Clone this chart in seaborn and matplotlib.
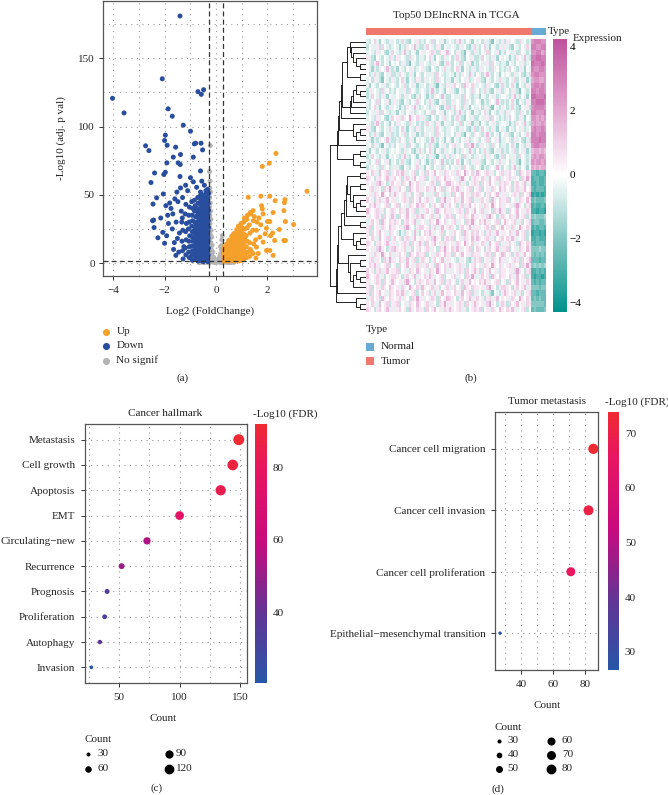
import numpy as np
import pandas as pd
import matplotlib
matplotlib.use("Agg")
import matplotlib.pyplot as plt
import seaborn as sns
from matplotlib.colors import LinearSegmentedColormap, ListedColormap, Normalize
from matplotlib.cm import ScalarMappable

# ---------------------------------------------------------------- data (a)
down_pts = [
    (-1.40, 181), (-2.09, 135), (-0.70, 125.6), (-0.57, 123.6), (-0.48, 127), (-4.03, 120.7),
    (-3.58, 110), (-1.86, 113), (-1.70, 107.6), (-1.27, 101), (-0.99, 96.6), (-1.97, 93.7),
    (-2.00, 89.8), (-1.90, 86.3), (-2.74, 85.9), (-2.61, 82.4), (-1.57, 84.9), (-0.84, 87.3),
    (-0.79, 87.8), (-0.58, 87.8), (-0.52, 82.9), (-1.38, 79.5), (-1.66, 77.6), (-1.47, 73.4),
    (-1.39, 72.2), (-1.91, 73.4), (-0.88, 77.6), (-2.39, 66), (-2.03, 64.9), (-1.97, 66.5),
    (-2.53, 59), (-1.40, 63.4), (-0.99, 62.5), (-0.88, 59.5), (-0.75, 55.5), (-0.60, 67.5),
    (-0.45, 57), (-0.55, 60), (-2.05, 50.6), (-2.31, 47.8), (-2.45, 43.2), (-2.43, 31.5),
    (-2.47, 31), (-2.41, 26), (-2.26, 18.5), (-2.07, 22.5), (-2.00, 14.5), (-1.56, 5.6),
    (-1.80, 44), (-1.75, 40), (-1.68, 36), (-1.85, 29), (-1.92, 20), (-1.70, 25), (-1.62, 15),
    (-1.55, 30), (-1.48, 45), (-1.52, 52), (-1.30, 48), (-1.35, 38), (-1.42, 22), (-1.25, 12),
    (-1.45, 8), (-1.60, 47), (-1.38, 55), (-1.18, 57), (-1.10, 53), (-1.65, 10), (-1.50, 18),
    (-1.88, 35), (-2.15, 33), (-1.95, 42), (-1.33, 30), (-1.28, 3),
    (-0.31, 1), (-0.33, 3.5), (-0.30, 6), (-0.32, 8.5), (-0.29, 11), (-0.33, 13.5), (-0.31, 16),
    (-0.30, 18.5), (-0.34, 21), (-0.31, 23.5), (-0.29, 26), (-0.32, 28.5), (-0.30, 31), (-0.33, 33.5),
    (-0.31, 36), (-0.29, 38.5), (-0.32, 41), (-0.30, 43.5), (-0.33, 46), (-0.31, 48.5), (-0.29, 51),
    (-0.32, 54),
    (-0.40, 2), (-0.42, 4.5), (-0.39, 7), (-0.41, 9.5), (-0.38, 12), (-0.42, 14.5), (-0.40, 17),
    (-0.43, 19.5), (-0.39, 22), (-0.41, 24.5), (-0.38, 27), (-0.42, 29.5), (-0.40, 32), (-0.43, 34.5),
    (-0.39, 37), (-0.41, 39.5), (-0.38, 42), (-0.42, 44.5), (-0.40, 47), (-0.41, 50), (-0.39, 53),
    (-0.50, 1), (-0.52, 3.5), (-0.49, 6), (-0.51, 8.5), (-0.48, 11), (-0.53, 13.5), (-0.50, 16),
    (-0.52, 18.5), (-0.49, 21), (-0.51, 23.5), (-0.48, 26), (-0.52, 28.5), (-0.50, 31), (-0.53, 33.5),
    (-0.49, 36), (-0.51, 38.5), (-0.48, 41), (-0.52, 44), (-0.50, 47), (-0.51, 50),
    (-0.60, 2), (-0.62, 4.5), (-0.59, 7), (-0.61, 9.5), (-0.58, 12), (-0.63, 14.5), (-0.60, 17),
    (-0.62, 19.5), (-0.59, 22), (-0.61, 25), (-0.58, 28), (-0.62, 31), (-0.60, 34), (-0.63, 37),
    (-0.59, 40), (-0.61, 43), (-0.58, 46), (-0.62, 49), (-0.60, 52),
    (-0.70, 1.5), (-0.72, 4), (-0.69, 7), (-0.71, 10), (-0.68, 13), (-0.73, 16), (-0.70, 19),
    (-0.72, 22), (-0.69, 25), (-0.71, 28), (-0.68, 31), (-0.72, 34), (-0.70, 37), (-0.73, 40),
    (-0.69, 44), (-0.71, 48),
    (-0.81, 3), (-0.83, 6), (-0.80, 9), (-0.82, 12), (-0.79, 15), (-0.84, 18), (-0.81, 21),
    (-0.83, 24), (-0.80, 27), (-0.82, 30), (-0.79, 34), (-0.83, 38), (-0.81, 42), (-0.84, 46),
    (-0.92, 2), (-0.94, 5.5), (-0.91, 9), (-0.93, 12.5), (-0.90, 16), (-0.95, 19.5), (-0.92, 23),
    (-0.94, 27), (-0.91, 31), (-0.93, 35), (-0.90, 40), (-0.94, 45),
    (-1.04, 4), (-1.06, 8), (-1.03, 12), (-1.05, 16), (-1.02, 20), (-1.07, 25), (-1.04, 30),
    (-1.06, 35), (-1.03, 41),
    (-1.17, 6), (-1.19, 11), (-1.16, 17), (-1.18, 23), (-1.15, 29), (-1.20, 36), (-1.17, 43),
    (-1.30, 9), (-1.32, 16), (-1.29, 24), (-1.31, 33),
]
up_pts = [
    (0.30, 1.5), (0.32, 4), (0.29, 6.5), (0.31, 9), (0.30, 11.5),
    (0.40, 1.5), (0.42, 4), (0.39, 6.5), (0.41, 9), (0.38, 11.5), (0.42, 14),
    (0.50, 1.5), (0.52, 4), (0.49, 6.5), (0.51, 9), (0.48, 11.5), (0.52, 14), (0.50, 16.5),
    (0.60, 2), (0.62, 4.5), (0.59, 7), (0.61, 9.5), (0.58, 12), (0.62, 14.5), (0.60, 17), (0.61, 19.5),
    (0.70, 1.5), (0.72, 4), (0.69, 6.5), (0.71, 9), (0.68, 11.5), (0.72, 14), (0.70, 16.5), (0.73, 19),
    (0.69, 21.5),
    (0.80, 2), (0.82, 4.5), (0.79, 7), (0.81, 9.5), (0.78, 12), (0.82, 14.5), (0.80, 17), (0.83, 19.5),
    (0.79, 22), (0.81, 24.5),
    (0.90, 1.5), (0.92, 4), (0.89, 6.5), (0.91, 9), (0.88, 11.5), (0.92, 14), (0.90, 16.5), (0.93, 19),
    (0.89, 21.5), (0.91, 24), (0.88, 27),
    (1.00, 2), (1.02, 4.5), (0.99, 7), (1.01, 9.5), (0.98, 12), (1.02, 14.5), (1.00, 17), (1.03, 20),
    (0.99, 23), (1.01, 26), (0.98, 29),
    (1.10, 3), (1.12, 6), (1.09, 9), (1.11, 12), (1.08, 15), (1.12, 18), (1.10, 21), (1.13, 25),
    (1.09, 30), (1.11, 33),
    (1.20, 4), (1.22, 8), (1.19, 12), (1.21, 16), (1.18, 20), (1.22, 26), (1.20, 32), (1.23, 35),
    (1.32, 5), (1.34, 10), (1.31, 15), (1.33, 22), (1.30, 28), (1.34, 37),
    (1.45, 7), (1.47, 14), (1.44, 24), (1.46, 31),
    (2.34, 80.3), (2.08, 73.2), (1.81, 70.8), (3.55, 52.6), (1.26, 48.2), (1.75, 49), (2.10, 49),
    (2.31, 45.7), (2.69, 46.5), (2.67, 44.3), (1.78, 42), (1.81, 39.7), (1.45, 38.4), (2.23, 37),
    (2.65, 38.4), (1.36, 36), (1.19, 32.4), (1.84, 36), (2.01, 30.4), (2.10, 30.4), (2.71, 30.4),
    (3.03, 28.2), (2.47, 24.6), (2.21, 22), (2.65, 16.5), (2.71, 16.5), (2.29, 16.5), (1.97, 9.2),
    (2.10, 9.2), (2.23, 5.6), (1.56, 3.6), (1.92, 21.4), (2.13, 20), (1.58, 24), (1.71, 19),
    (1.84, 15.3), (1.58, 11.7), (1.39, 8), (1.97, 25.5), (1.60, 30), (1.55, 17), (1.65, 7),
    (1.75, 28), (1.50, 34), (1.68, 33),
]
ns_pts = [
    (-0.22, 86), (-0.25, 67), (-0.23, 60), (-0.24, 55), (-0.21, 52), (-0.24, 48), (-0.22, 44),
    (-0.25, 41), (-0.21, 38), (-0.24, 35), (-0.20, 32), (-0.23, 29), (-0.25, 26), (-0.19, 24),
    (-0.22, 21), (-0.17, 19), (-0.24, 18), (-0.20, 15), (-0.15, 13), (-0.23, 12), (-0.18, 10),
    (-0.12, 8), (-0.21, 7), (-0.15, 5.5), (-0.08, 4), (-0.19, 3), (-0.11, 2), (-0.03, 1),
    (0.05, 1.5), (0.10, 3), (0.15, 5), (0.19, 7), (0.22, 10), (0.24, 13), (0.20, 4), (0.25, 2),
    (0.12, 0.8), (-0.05, 0.5), (0.30, 0.5), (0.40, 0.6), (0.50, 0.3), (-0.35, 0.5), (-0.45, 0.3),
    (-0.55, 0.6), (-0.25, 0.4), (0.00, 0.2), (0.60, 0.4), (0.20, 0.3), (-0.14, 0.8), (0.23, 17),
    (0.25, 20), (-0.65, 0.2), (0.70, 0.5), (-0.25, 9), (-0.25, 4), (0.18, 12), (0.24, 7),
]
volcano_groups = ["Up", "Down", "No signif"]
volcano_colors = ["#F5A02B", "#2A4E9E", "#B4B4B4"]
lfc_cut, padj_line = 0.263, 1.3

# ---------------------------------------------------------------- data (b)
heat_title = "Top50 DElncRNA in TCGA"
# expression levels coded as letters: a=-4 ... i=0 ... q=+4 (step 0.5)
LEVELS = "abcdefghijklmnopq"
HEAT_WORDS = {
    "T1": "hgikhfihgjh", "T2": "ihgjlhgihfi", "T3": "gihhjgkihgh", "T4": "hfihgihjghi",
    "T5": "ighkhgfihjg", "T6": "hihgjhigfhk", "T7": "gjhihgkhigh", "T8": "ihfhgjihlhg",
    "T9": "hgihkgihjfh", "T10": "jhgfihgihkh", "T11": "higjhgeihgj", "T12": "ghkihgjhfih",
    "P1": "jikjhlijkgj", "P2": "ijhkjimjikh", "P3": "kjigjkijlhj", "P4": "jhijkjgkijl",
    "P5": "ikjljhijkgi", "P6": "jijhkmjigjk", "P7": "hjkijgljikj", "P8": "kijgjkhjlij",
    "P9": "jgkijlijhkj", "P10": "ijkhjigkjmj", "P11": "ljijkhjgijk", "P12": "jkgijhkjilj",
}
# each row: tumour samples (coded words) | normal samples
HEAT_ROWS = [
    "T1 T5 T9 T2 T11 T7|nooonn", "T3 T8 T12 T6 T1 T10|oonnoo", "T6 T2 P4 T11 T9 T3|nnoomn",
    "T10 T7 T1 T5 T12 T8|ooppoo", "T2 T11 T6 T9 T3 T4|pooopo", "T8 T4 T10 T1 T7 T12|onnoon",
    "T5 T12 T3 T8 T2 T6|noonnn", "T11 T1 T7 T4 T10 T9|mnnmmn", "T4 T9 T11 P7 T6 T1|noonon",
    "T7 T3 T2 T10 T5 T11|oonoon", "T12 T6 T8 T3 T4 T2|ppooop", "T9 T10 T5 T7 T8 T1|oopppo",
    "T1 T8 T6 T12 T11 T5|noooon", "T3 T4 T9 T2 T1 T7|oonnno", "T6 P2 T10 T5 T3 T12|nnmnmn",
    "T2 T7 T12 T9 T4 T8|mnmmnm", "T10 T1 T3 T6 T12 T4|nonnon", "T5 T9 T7 T11 T2 T10|oonooo",
    "T8 T12 T2 T4 T9 T6|ooopoo", "T11 T3 T5 P10 T7 T1|noonnn", "T4 T6 T1 T8 T5 T9|lmmlml",
    "T12 T2 T11 T7 T6 T3|mnmnnm", "T9 T5 T8 T1 T10 T11|nmnnmn", "T7 T10 T4 T3 T8 T2|mlmlmm",
    "P1 P5 P9 P2 P11 P7|ddcddc", "P3 P8 P12 P6 P1 P10|cddccd", "P6 P2 P4 P11 P9 P3|ccdccd",
    "P10 P7 P1 P5 P12 P8|dcdddc", "P2 P11 T3 P9 P3 P4|bcbcbc", "P8 P4 P10 P1 P7 P12|deddde",
    "P5 P12 P3 P8 P2 P6|cdccdc", "P11 P1 P7 P4 P10 P9|ccbccb", "P4 P9 P11 P12 P6 P1|efeeef",
    "P7 P3 P2 P10 P5 P11|deedde", "P12 P6 P8 P3 P4 P2|cdcddc", "P9 T8 P5 P7 P8 P1|bccbcb",
    "P1 P8 P6 P12 P11 P5|ccdccc", "P3 P4 P9 P2 P1 P7|dcdddc", "P6 P11 P10 P5 P3 P12|eeefee",
    "P2 P7 P12 P9 P4 P8|ededed", "P10 P1 P3 T6 P12 P4|dddcdd", "P5 P9 P7 P11 P2 P10|efefef",
    "P8 P12 P2 P4 P9 P6|ccdcdc", "P11 P3 P5 P10 P7 P1|cbccbc", "P4 P6 P1 P8 P5 P9|dcdcdd",
    "P12 P2 P11 P7 P6 P3|eeedee", "P9 P5 P8 P1 T11 P11|ddcddd", "P7 P10 P4 P3 P8 P2|dededd",
    "P1 P12 P10 P4 P6 P9|eeeeed", "P3 P7 P9 P11 P12 P5|deddde",
]
expr_ticks = [-4, -2, 0, 2, 4]
type_names = ["Normal", "Tumor"]
type_colors = ["#67AAD4", "#F0776C"]

# ---------------------------------------------------------------- data (c)
hall_terms = ["Metastasis", "Cell growth", "Apoptosis", "EMT", "Circulating\u2212new",
              "Recurrence", "Prognosis", "Proliferation", "Autophagy", "Invasion"]
hall_count = [149, 144, 134, 100, 73, 52, 40, 38, 34, 27]
hall_fdr = [91.9, 88.5, 84.0, 76.0, 55.0, 51.0, 34.5, 33.5, 38.5, 20.4]
hall_xticks = [50, 100, 150]
hall_fdr_ticks = [40, 60, 80]
hall_size_legend = [30, 60, 90, 120]

# ---------------------------------------------------------------- data (d)
met_terms = ["Cancer cell migration", "Cancer cell invasion", "Cancer cell proliferation",
             "Epithelial\u2212mesenchymal transition"]
met_count = [85, 82, 71, 27]
met_fdr = [73.9, 70.5, 66.0, 26.7]
met_xticks = [40, 60, 80]
met_fdr_ticks = [30, 40, 50, 60, 70]
met_size_legend = [30, 40, 50, 60, 70, 80]

# ---------------------------------------------------------------- style
sns.set_theme(style="white")
plt.rcParams['font.family'] = ['Liberation Serif', 'DejaVu Serif']
FS = 8
plt.rcParams['font.size'] = FS
GRID_KW = dict(color="#9a9a9a", lw=0.8, ls=(0, (1, 4)), zorder=0)
SPINE = "#555555"

W, H = 668, 795
fig = plt.figure(figsize=(W / 100, H / 100), dpi=100)


def add_ax(l, t, r, b):
    return fig.add_axes([l / W, 1 - b / H, (r - l) / W, (b - t) / H])


def frame(ax):
    for s in ax.spines.values():
        s.set_visible(True)
        s.set_color(SPINE)
        s.set_linewidth(0.9)


texts = []  # (x, y, s, kw) in pixel coordinates, drawn on overlay
marks = []  # legend swatches on overlay


def ptext(x, y, s, **kw):
    texts.append((x, y, s, kw))


# ================================================================ (a) volcano
rows = ([(x, y, "No signif") for x, y in ns_pts] +
        [(x, y, "Down") for x, y in down_pts] +
        [(x, y, "Up") for x, y in up_pts])
df_v = pd.DataFrame(rows, columns=["lfc", "nlp", "group"])
ax_a = add_ax(103, 1, 317, 276)
sns.scatterplot(data=df_v, x="lfc", y="nlp", hue="group", hue_order=volcano_groups,
                palette=dict(zip(volcano_groups, volcano_colors)), s=13, linewidth=0,
                legend=False, ax=ax_a, zorder=3)
ax_a.set_xlim(-4.4, 3.94)
ax_a.set_ylim(-9.5, 192)
for v in range(-4, 4):
    ax_a.axvline(v, **GRID_KW)
for v in range(0, 200, 25):
    ax_a.axhline(v, **GRID_KW)
for v in (-lfc_cut, lfc_cut):
    ax_a.axvline(v, color="#333333", lw=0.9, ls=(0, (4, 2.5)), zorder=4)
ax_a.axhline(padj_line, color="#333333", lw=0.9, ls=(0, (4, 2.5)), zorder=4)
ax_a.set_xticks([-4, -2, 0, 2])
ax_a.set_yticks([0, 50, 100, 150])
ax_a.set_xlabel("")
ax_a.set_ylabel("")
ax_a.tick_params(bottom=True, left=True, length=3, width=0.7, color="#333333",
                 labelsize=FS, pad=3)
ax_a.tick_params(axis="x", pad=4)
frame(ax_a)
ptext(210, 311, "Log2 (FoldChange)", ha="center", va="center")
ptext(61, 138, "-Log10 (adj. p val)", ha="center", va="center", rotation=90)
for i, (g, c) in enumerate(zip(volcano_groups, volcano_colors)):
    y = 331.5 + i * 14.5
    marks.append((106, y, c, "o", 26))
    ptext(116.5, y, g, ha="left", va="center")
ptext(183, 378, "(a)", ha="center", va="center")

# ================================================================ (b) heatmap
val_of = {c: -4 + 0.5 * i for i, c in enumerate(LEVELS)}
tum_rows, nor_rows = [], []
for r in HEAT_ROWS:
    t, n = r.split("|")
    codes_t = "".join(HEAT_WORDS[w] for w in t.split())
    tum_rows.append([val_of[c] for c in codes_t])
    nor_rows.append([val_of[c] for c in n])
L = min(len(x) for x in tum_rows)
NN = min(len(x) for x in nor_rows)
M = np.array([t[:L] + n[:NN] for t, n in zip(tum_rows, nor_rows)], dtype=float)
col_types = ["Tumor"] * L + ["Normal"] * NN
nrow = M.shape[0]

ax_hm = add_ax(366, 39, 546, 312)
ax_cb = add_ax(553, 39, 567, 312)
cmap_expr = LinearSegmentedColormap.from_list(
    "expr", ["#00928C", "#7CC3BF", "#FFFFFF", "#E2A6CF", "#BF539D"])
sns.heatmap(M, ax=ax_hm, cmap=cmap_expr, vmin=-4.3, vmax=4.22, cbar_ax=ax_cb,
            cbar_kws={"ticks": expr_ticks}, xticklabels=False, yticklabels=False)
cbar = ax_hm.collections[0].colorbar
cbar.outline.set_visible(False)
ax_cb.tick_params(direction="in", color="white", width=0.8, length=3, labelsize=FS, pad=2,
                  right=True, labelcolor="black")

ax_type = add_ax(366, 28, 546, 34.5)
codes = [[type_names.index(t) for t in col_types]]
sns.heatmap(codes, ax=ax_type, cmap=ListedColormap(type_colors), vmin=-0.5, vmax=1.5,
            cbar=False, xticklabels=False, yticklabels=False)

# order-preserving average-linkage clustering of the rows (drawn with log2(size) heights)
D = np.sqrt(((M[:, None, :] - M[None, :, :]) ** 2).sum(-1))
clusters = [{"idx": [i], "pos": i + 0.5, "h": 0.0} for i in range(nrow)]
segs = []
while len(clusters) > 1:
    best = None
    for k in range(len(clusters) - 1):
        a, b = clusters[k], clusters[k + 1]
        d = D[np.ix_(a["idx"], b["idx"])].mean()
        if best is None or d < best[0]:
            best = (d, k)
    d, k = best
    a, b = clusters[k], clusters[k + 1]
    idx = a["idx"] + b["idx"]
    h = max(np.log2(len(idx)), a["h"] + 0.15, b["h"] + 0.15)
    segs.append(([a["h"], h, h, b["h"]], [a["pos"], a["pos"], b["pos"], b["pos"]]))
    clusters[k:k + 2] = [{"idx": idx, "pos": (a["pos"] + b["pos"]) / 2, "h": h}]
root_h = clusters[0]["h"]
ax_den = add_ax(330, 39, 366, 312)
for xs, ys in segs:
    ax_den.plot(xs, ys, color="black", lw=0.6, solid_capstyle="butt")
ax_den.set_xlim(root_h * 1.01, 0)
ax_den.set_ylim(nrow, 0)
ax_den.axis("off")

ptext(456, 16, heat_title, ha="center", va="center")
ptext(548, 31.5, "Type", ha="left", va="center")
ptext(572.5, 38.5, "Expression", ha="left", va="center")
ptext(366, 330, "Type", ha="left", va="center")
for i, nm in enumerate(type_names):
    y = 346.5 + i * 14.5
    marks.append((369.5, y, type_colors[i], "s", 26))
    ptext(380.5, y, nm, ha="left", va="center")
ptext(471, 378, "(b)", ha="center", va="center")

# ================================================================ dot plots
cmap_fdr = LinearSegmentedColormap.from_list(
    "fdr", [(0.0, "#2756A8"), (0.27, "#623494"), (0.55, "#C90A7E"), (0.83, "#E81660"),
            (1.0, "#EE2A32")])


def dotplot(box, cbox, terms, counts, fdr, fdr_rng, sizes, xlim, xticks, xgrid, ypad, fdr_ticks):
    ax = add_ax(*box)
    df = pd.DataFrame({"term": terms, "count": counts, "fdr": fdr})
    for v in xgrid:
        ax.axvline(v, **GRID_KW)
    for i in range(len(terms)):
        ax.axhline(i, **GRID_KW)
    sns.scatterplot(data=df, x="count", y="term", hue="fdr", size="count",
                    palette=cmap_fdr, hue_norm=Normalize(*fdr_rng), sizes=sizes,
                    size_norm=(min(counts), max(counts)), linewidth=0, legend=False,
                    ax=ax, zorder=3)
    ax.set_xlim(*xlim)
    ax.set_ylim(len(terms) - 1 + ypad, -ypad)
    ax.set_xticks(xticks)
    ax.set_xlabel("")
    ax.set_ylabel("")
    ax.tick_params(bottom=True, left=True, length=3, width=0.7, color="#333333",
                   labelsize=FS, pad=4)
    frame(ax)
    cax = add_ax(*cbox)
    cb = fig.colorbar(ScalarMappable(norm=Normalize(*fdr_rng), cmap=cmap_fdr), cax=cax,
                      ticks=fdr_ticks)
    cb.outline.set_visible(False)
    cax.tick_params(direction="in", color="white", width=0.8, length=3, labelsize=FS, pad=4)
    return ax


def size_of(v, counts, sizes):
    lo, hi = min(counts), max(counts)
    return sizes[0] + (v - lo) / (hi - lo) * (sizes[1] - sizes[0])


# ---------------- (c)
sizes_c = (7, 62)
dotplot((85, 424, 247, 683), (255, 424, 267.3, 683), hall_terms, hall_count, hall_fdr,
        (20.4, 91.9), sizes_c, (21.7, 155.8), hall_xticks, [25, 50, 75, 100, 125, 150], 0.62,
        hall_fdr_ticks)
ptext(165, 414, "Cancer hallmark", ha="center", va="center")
ptext(253, 414, "-Log10 (FDR)", ha="left", va="center")
ptext(163, 718.5, "Count", ha="center", va="center")
ptext(84.5, 740, "Count", ha="left", va="center")
for i, v in enumerate(hall_size_legend):
    cx = 88.3 if i < 2 else 169
    tx = 97.5 if i < 2 else 175.5
    y = 754 + (i % 2) * 14.5
    marks.append((cx, y, "black", "o", size_of(v, hall_count, sizes_c)))
    ptext(tx, y, str(v), ha="left", va="center")
ptext(157, 788, "(c)", ha="center", va="center")

# ---------------- (d)
sizes_d = (6, 54)
dotplot((495, 412, 598, 670), (607.7, 412, 619.3, 670), met_terms, met_count, met_fdr,
        (26.7, 73.9), sizes_d, (23.9, 87.9), met_xticks, [30, 40, 50, 60, 70, 80], 0.6,
        met_fdr_ticks)
ptext(547, 402, "Tumor metastasis", ha="center", va="center")
ptext(605, 402, "-Log10 (FDR)", ha="left", va="center")
ptext(547, 705, "Count", ha="center", va="center")
ptext(494.5, 727, "Count", ha="left", va="center")
for i, v in enumerate(met_size_legend):
    cx = 498.5 if i < 3 else 551
    tx = 507.5 if i < 3 else 562
    y = 740.5 + (i % 3) * 14.2
    marks.append((cx, y, "black", "o", size_of(v, met_count, sizes_d)))
    ptext(tx, y, str(v), ha="left", va="center")
ptext(498, 789, "(d)", ha="center", va="center")

# ================================================================ overlay
ov = fig.add_axes([0, 0, 1, 1])
ov.set_xlim(0, W)
ov.set_ylim(H, 0)
ov.axis("off")
for x, y, c, m, s in marks:
    ov.scatter([x], [y], s=s, c=[c], marker=m, linewidths=0)
for x, y, s, kw in texts:
    ov.text(x, y, s, fontsize=kw.pop("fontsize", FS), color="#222222", **kw)

fig.savefig("out.png", dpi=100)
